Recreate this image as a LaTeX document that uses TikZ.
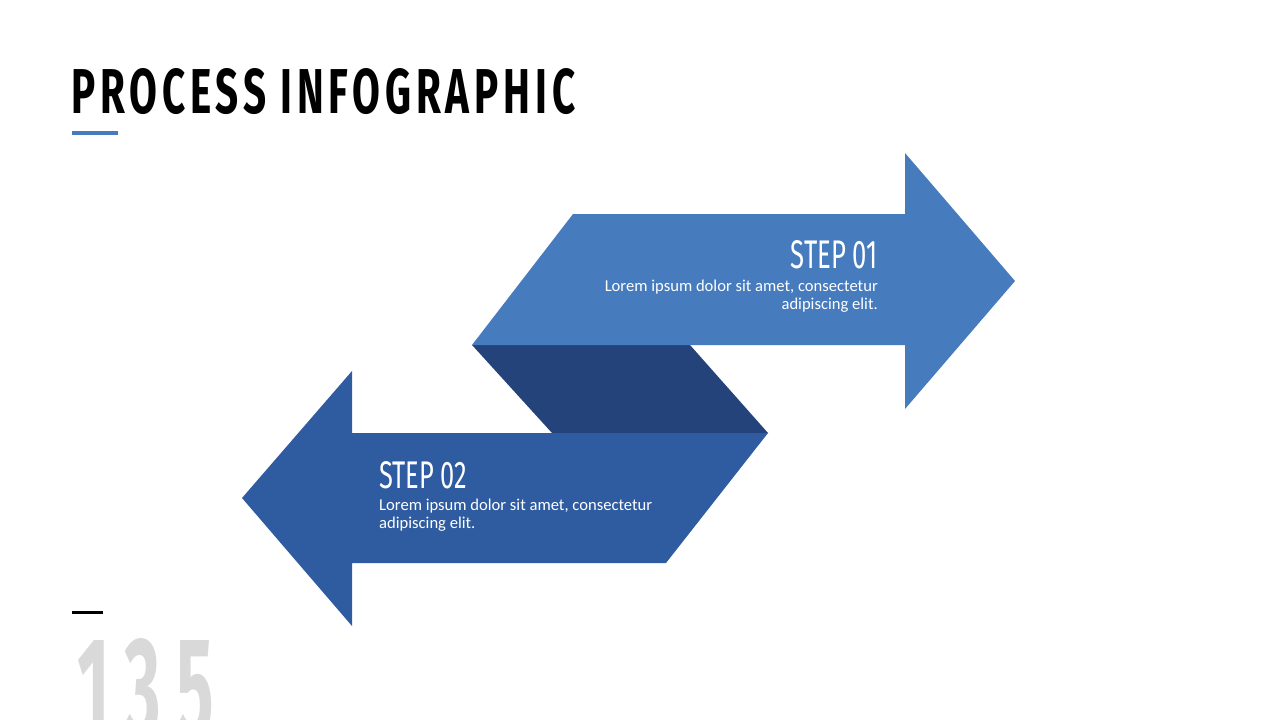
\documentclass[tikz,border=0pt]{standalone}
\usepackage{fontspec}
\usepackage{xcolor}
\usepackage{graphicx}
\setmainfont{Carlito}
\newfontfamily\headfont[LetterSpace=12]{Fira Sans}
\newfontfamily\stepfont{Fira Sans}
\newfontfamily\numfont[LetterSpace=22]{Fira Sans}
\usetikzlibrary{positioning}
\definecolor{arrowlight}{RGB}{70,123,190}
\definecolor{arrowmid}{RGB}{47,91,160}
\definecolor{arrowdark}{RGB}{36,67,122}
\definecolor{pagegrey}{RGB}{217,217,217}

\begin{document}
\begin{tikzpicture}[x=1pt, y=-1pt,
    steptitle/.style={inner sep=0pt, text=white},
    steptext/.style={inner sep=0pt, text=white, font=\fontsize{16.6}{17.5}\selectfont}]
    \useasboundingbox (0,0) rectangle (1280,720);

    % title and rules
    \node[anchor=south west, inner sep=0pt] (title) at (71,115)
        {\resizebox{504pt}{45pt}{\headfont\bfseries PROCESS INFOGRAPHIC}};
    \fill[arrowlight] (72,131) rectangle (118,135);
    \fill[black] (72,611) rectangle (103,614);
    \node[anchor=north west, inner sep=0pt, text=pagegrey] (pagenum) at (77,638)
        {\resizebox{137pt}{100pt}{\numfont\bfseries 135}};

    % fold between the two arrows
    \fill[arrowdark] (472,345) -- (690,345) -- (768,433) -- (552,433) -- cycle;

    % upper arrow, pointing right
    \fill[arrowlight] (472,345) -- (573,214) -- (905,214) -- (905,153)
        -- (1015,281) -- (905,409) -- (905,345) -- cycle;

    % lower arrow, pointing left
    \fill[arrowmid] (768,433) -- (666,563) -- (352,563) -- (352,626)
        -- (242,498) -- (352,371) -- (352,433) -- cycle;

    % texts
    \node[steptitle, anchor=north east] (step1) at (878,240)
        {\resizebox{87pt}{28pt}{\stepfont STEP 01}};
    \node[steptext, anchor=base east, align=right] (text1) at (878,309)
        {Lorem ipsum dolor sit amet, consectetur\\adipiscing elit.};

    \node[steptitle, anchor=north west] (step2) at (379,461)
        {\resizebox{88pt}{27pt}{\stepfont STEP 02}};
    \node[steptext, anchor=base west, align=left] (text2) at (379,528)
        {Lorem ipsum dolor sit amet, consectetur\\adipiscing elit.};
\end{tikzpicture}
\end{document}
